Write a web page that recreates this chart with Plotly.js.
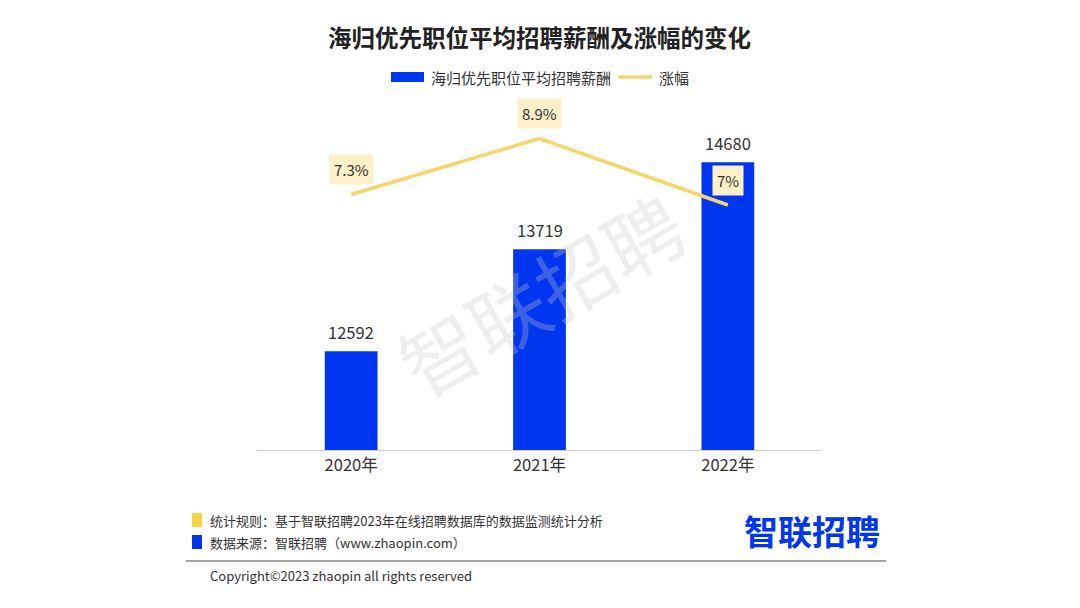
<!DOCTYPE html>
<html>
<head>
<meta charset="utf-8">
<script src="https://cdn.plot.ly/plotly-3.0.1.min.js"></script>
<style>
html,body{margin:0;padding:0;background:#fff;}
#chart{width:1080px;height:608px;}
</style>
</head>
<body>
<div id="chart"></div>
<script>
const years = ["2020年", "2021年", "2022年"];
const salary = [12592, 13719, 14680];
const growth = [7.3, 8.9, 7.0];
const growthLabels = ["7.3%", "8.9%", "7%"];
const seriesNames = ["海归优先职位平均招聘薪酬", "涨幅"];
const titleText = "海归优先职位平均招聘薪酬及涨幅的变化";
const note1 = "统计规则：基于智联招聘2023年在线招聘数据库的数据监测统计分析";
const note2 = "数据来源：智联招聘（www.zhaopin.com）";
const copyright = "Copyright©2023 zhaopin all rights reserved";
const brand = "智联招聘";

const FONT = '"Noto Sans CJK SC", "Noto Sans", sans-serif';
const BLUE = "#0036ef";
const YELLOW = "#f8d568";

const traces = [
  {
    type: "bar", x: years, y: salary, name: seriesNames[0],
    marker: {color: BLUE}, width: 0.28, showlegend: false
  },
  {
    type: "scatter", mode: "lines", x: years, y: growth, name: seriesNames[1],
    yaxis: "y2", line: {color: YELLOW, width: 3.5}, showlegend: false
  }
];

const annotations = [];
// watermark
annotations.push({
  xref: "paper", yref: "paper", x: 0.5, y: 0.45, text: brand,
  showarrow: false, textangle: -30,
  font: {size: 78, color: "rgba(200,200,200,0.3)", family: FONT}
});
salary.forEach((v, i) => annotations.push({
  x: years[i], y: v, xref: "x", yref: "y", text: String(v),
  showarrow: false, yanchor: "middle", yshift: 19,
  font: {size: 16.5, color: "#333", family: FONT}
}));
growth.forEach((v, i) => annotations.push({
  x: years[i], y: v, xref: "x", yref: "y2", text: growthLabels[i],
  showarrow: false, yshift: 25, bgcolor: "#fdf0c9", borderpad: 4,
  font: {size: 15, color: "#333", family: FONT}
}));
annotations.push({
  xref: "paper", yref: "paper", x: 0.5, y: 1, yanchor: "middle", yshift: 63,
  text: "<b>" + titleText + "</b>", showarrow: false,
  font: {size: 23.5, color: "#222", family: FONT}
});
// legend text
annotations.push({
  xref: "paper", yref: "paper", x: 0, xshift: 172, y: 1, yshift: 23,
  xanchor: "left", yanchor: "middle", text: seriesNames[0], showarrow: false,
  font: {size: 15, color: "#333", family: FONT}
});
annotations.push({
  xref: "paper", yref: "paper", x: 0, xshift: 400, y: 1, yshift: 23,
  xanchor: "left", yanchor: "middle", text: seriesNames[1], showarrow: false,
  font: {size: 15, color: "#333", family: FONT}
});
// footer
annotations.push({
  xref: "paper", yref: "paper", x: 0, xshift: -49, y: 0, yshift: -70,
  xanchor: "left", yanchor: "middle", text: note1, showarrow: false,
  font: {size: 13, color: "#333", family: FONT}
});
annotations.push({
  xref: "paper", yref: "paper", x: 0, xshift: -49, y: 0, yshift: -92,
  xanchor: "left", yanchor: "middle", text: note2, showarrow: false,
  font: {size: 13, color: "#333", family: FONT}
});
annotations.push({
  xref: "paper", yref: "paper", x: 1, xshift: 60, y: 0, yshift: -80,
  xanchor: "right", yanchor: "middle", text: "<b>" + brand + "</b>", showarrow: false,
  font: {size: 34, color: BLUE, family: FONT}
});
annotations.push({
  xref: "paper", yref: "paper", x: 0, xshift: -49, y: 0, yshift: -125,
  xanchor: "left", yanchor: "middle", text: copyright, showarrow: false,
  font: {size: 13, color: "#333", family: FONT}
});

const px = {xref: "paper", yref: "paper", xsizemode: "pixel", ysizemode: "pixel"};
const shapes = [
  Object.assign({type: "rect", xanchor: 0, yanchor: 1, x0: 134, x1: 167, y0: 18, y1: 28,
    fillcolor: BLUE, line: {width: 0}}, px),
  Object.assign({type: "line", xanchor: 0, yanchor: 1, x0: 361, x1: 395, y0: 23, y1: 23,
    line: {color: YELLOW, width: 3.5}}, px),
  Object.assign({type: "rect", xanchor: 0, yanchor: 0, x0: -65, x1: -55, y0: -63, y1: -77,
    fillcolor: "#fad347", line: {width: 0}}, px),
  Object.assign({type: "rect", xanchor: 0, yanchor: 0, x0: -65, x1: -55, y0: -85, y1: -99,
    fillcolor: BLUE, line: {width: 0}}, px),
  Object.assign({type: "line", xanchor: 0, yanchor: 0, x0: -71, x1: 629, y0: -111, y1: -111,
    line: {color: "#888", width: 1.5}}, px)
];

const layout = {
  width: 1080, height: 608,
  margin: {l: 257, r: 258, t: 100, b: 158},
  paper_bgcolor: "#fff", plot_bgcolor: "#fff",
  font: {family: FONT, color: "#333"},
  showlegend: false,
  xaxis: {type: "category", showline: true, linecolor: "#d0d0d0", linewidth: 1,
    ticks: "", tickfont: {size: 16.5, color: "#333", family: FONT}, fixedrange: true,
    range: [-0.5, 2.5]},
  yaxis: {range: [11500, 15367], visible: false, showgrid: false, zeroline: false},
  yaxis2: {range: [0, 10], overlaying: "y", side: "right", visible: false,
    showgrid: false, zeroline: false},
  annotations: annotations,
  shapes: shapes
};

Plotly.newPlot("chart", traces, layout, {displayModeBar: false, staticPlot: true});
</script>
</body>
</html>
